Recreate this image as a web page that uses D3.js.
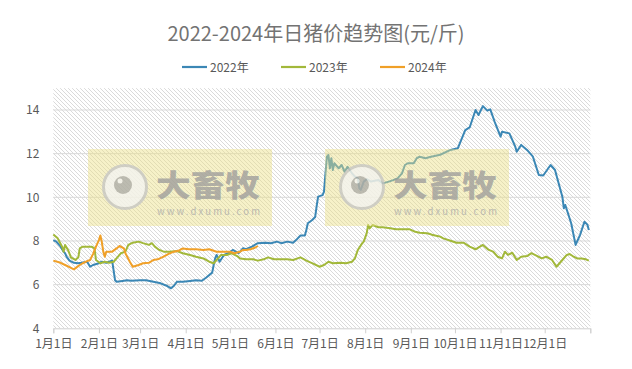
<!DOCTYPE html>
<html><head><meta charset="utf-8">
<script src="https://cdn.jsdelivr.net/npm/d3@7"></script>
<style>
html,body{margin:0;padding:0;background:#fff;}
svg{display:block;font-family:"Noto Sans CJK SC","Noto Sans",sans-serif;}
</style></head>
<body><svg id="c" width="632" height="369"></svg>
<script>
// ---- data (day index within the year, value in 元/斤) ----
const seriesNames = ["2022年", "2023年", "2024年"];
const seriesColors = ["#3b87b5", "#a2b83a", "#f0a028"];

const days2022 = [0,2,5,7,8,9,11,14,17,19,23,25,27,31,33,36,40,42,43,47,50,53,59,63,68,73,77,80,82,84,88,93,97,101,104,108,109,110,111,113,116,119,122,126,129,131,135,139,144,148,152,155,159,163,165,168,171,172,173,176,178,179,180,183,184,185,186,187,188,189,190,191,194,196,198,200,203,205,207,208,209,211,213,216,221,224,228,231,234,237,239,241,245,247,249,253,256,263,270,275,280,283,287,289,292,295,297,300,304,305,310,314,315,318,322,326,330,333,338,341,346,347,348,352,355,358,361,363,364];
const price2022 = [8.04,7.97,7.74,7.51,7.44,7.28,7.10,7.00,6.98,7.00,7.05,6.82,6.90,6.98,7.05,7.00,7.10,6.20,6.13,6.17,6.20,6.18,6.20,6.20,6.13,6.06,5.95,5.83,5.95,6.13,6.13,6.17,6.20,6.18,6.33,6.55,6.90,7.20,7.36,7.05,7.36,7.44,7.59,7.44,7.67,7.62,7.74,7.90,7.92,7.90,7.97,7.90,7.97,7.92,8.04,8.25,8.25,8.50,8.81,8.96,9.10,9.60,10.03,10.10,10.26,11.10,11.86,11.94,11.33,11.79,11.25,11.56,11.33,11.48,11.17,11.40,11.10,10.95,10.87,10.41,10.34,10.72,10.83,10.72,10.79,10.64,10.72,10.79,10.87,11.10,11.48,11.56,11.56,11.79,11.86,11.79,11.85,11.95,12.17,12.25,13.08,13.20,14.00,13.77,14.18,13.97,14.03,13.46,12.78,13.00,12.93,12.32,12.09,12.40,12.17,11.86,11.02,11.00,11.48,11.25,10.03,9.50,9.65,8.81,7.82,8.27,8.88,8.75,8.50];

const days2023 = [0,3,6,7,8,10,12,15,17,18,20,26,28,29,32,35,38,41,44,46,49,51,54,58,61,65,67,69,72,75,79,84,88,93,97,102,106,109,111,114,118,121,125,127,131,136,139,143,146,150,154,159,163,168,172,177,181,184,187,190,195,199,203,205,207,210,211,213,214,215,217,221,224,229,233,238,242,246,249,254,256,258,261,263,265,270,274,279,283,287,290,292,296,299,302,305,307,309,312,315,318,322,325,329,332,335,339,342,346,349,351,353,356,359,362,364];
const price2023 = [8.30,8.12,7.74,7.51,7.82,7.59,7.25,7.13,7.25,7.66,7.74,7.74,7.66,7.13,6.98,7.05,7.00,7.05,7.28,7.44,7.51,7.82,7.92,7.97,7.90,7.82,7.90,7.74,7.59,7.51,7.51,7.54,7.44,7.36,7.28,7.20,7.05,6.98,7.13,7.36,7.36,7.44,7.31,7.20,7.16,7.16,7.10,7.16,7.25,7.16,7.16,7.16,7.13,7.25,7.10,6.95,6.82,6.90,7.05,6.98,7.00,6.98,7.05,7.20,7.59,7.90,7.97,8.35,8.73,8.58,8.73,8.63,8.63,8.58,8.54,8.54,8.54,8.42,8.38,8.35,8.32,8.27,8.23,8.20,8.12,8.01,7.92,7.92,7.74,7.62,7.74,7.82,7.59,7.51,7.28,7.20,7.51,7.36,7.46,7.13,7.28,7.31,7.44,7.31,7.20,7.28,7.13,6.82,7.13,7.36,7.40,7.31,7.20,7.20,7.16,7.10];

const days2024 = [0,5,8,11,14,16,18,20,23,25,27,29,31,32,33,34,35,36,40,43,45,48,49,52,54,58,61,65,68,71,75,78,82,85,88,92,97,102,106,111,116,120,123,127,129,131,134,137,139];
const price2024 = [7.10,7.00,6.90,6.80,6.70,6.80,6.90,6.98,7.08,7.13,7.40,7.74,8.04,8.25,7.95,7.50,7.28,7.51,7.51,7.66,7.77,7.66,7.44,7.05,6.82,6.90,6.98,7.00,7.13,7.16,7.28,7.40,7.51,7.55,7.66,7.62,7.62,7.59,7.62,7.51,7.51,7.51,7.44,7.51,7.59,7.59,7.62,7.69,7.77];

const monthStartDays = [0,31,59,90,120,151,181,212,243,273,304,334];
const monthLabels = ["1月1日","2月1日","3月1日","4月1日","5月1日","6月1日","7月1日","8月1日","9月1日","10月1日","11月1日","12月1日"];
const yTicks = [4,6,8,10,12,14];
const titleText = "2022-2024年日猪价趋势图(元/斤)";

// ---- drawing ----
const svg = d3.select("#c");
const x = d3.scaleLinear().domain([0,365]).range([53.3,590.3]);
const y = d3.scaleLinear().domain([4,14]).range([328.3,110]);
const plotTop = y(15);

const defs = svg.append("defs");
const pat = defs.append("pattern").attr("id","hatch").attr("patternUnits","userSpaceOnUse")
  .attr("width",4).attr("height",4);
pat.append("rect").attr("width",4).attr("height",4).attr("fill","#fff");
pat.append("path").attr("d","M-1,-1 L5,5 M-1,3 L1,5 M3,-1 L5,1").attr("stroke","#d6d6d6").attr("stroke-width",0.9);

svg.append("rect").attr("x",x(0)).attr("y",plotTop).attr("width",x(365)-x(0)).attr("height",y(4)-plotTop)
  .attr("fill","url(#hatch)");

// title
svg.append("text").attr("x",316).attr("y",41).attr("text-anchor","middle")
  .attr("font-size",20).attr("fill","#737373").text(titleText);

// legend
const legendX = [182,281,380];
seriesNames.forEach((n,i)=>{
  const g = svg.append("g").attr("transform",`translate(${legendX[i]},67)`);
  g.append("line").attr("x1",0).attr("x2",25).attr("stroke",seriesColors[i]).attr("stroke-width",2.2);
  g.append("text").attr("x",28).attr("y",4.5).attr("font-size",12).attr("fill","#595959").text(n);
});

// gridlines
svg.append("g").selectAll("line").data(yTicks.filter(t=>t>4)).join("line")
  .attr("x1",x(0)).attr("x2",x(365)).attr("y1",d=>y(d)).attr("y2",d=>y(d))
  .attr("stroke","#d9d9d9").attr("stroke-width",1);

// y axis
const ya = svg.append("g").attr("transform",`translate(${x(0)},0)`)
  .call(d3.axisLeft(y).tickValues(yTicks).tickSize(0).tickPadding(14).tickFormat(d3.format("d")));
ya.select(".domain").remove();
ya.selectAll("text").attr("font-size",12).attr("fill","#595959").attr("font-family",'"Noto Sans CJK SC",sans-serif');

// x axis
const xa = svg.append("g").attr("transform",`translate(0,${y(4)})`)
  .call(d3.axisBottom(x).tickValues(monthStartDays.concat([365])).tickSize(5).tickPadding(6)
    .tickFormat((d,i)=> i<monthLabels.length ? monthLabels[i] : ""));
xa.select(".domain").attr("stroke","#d0d0d0");
xa.selectAll(".tick line").attr("stroke","#d0d0d0");
xa.selectAll("text").attr("font-size",12).attr("fill","#595959").attr("font-family",'"Noto Sans CJK SC",sans-serif');

// lines
const allDays = [days2022, days2023, days2024];
const allVals = [price2022, price2023, price2024];
const line = d3.line().x(d=>x(d[0])).y(d=>y(d[1]));
allDays.forEach((ds,i)=>{
  const pts = ds.map((d,j)=>[d, allVals[i][j]]);
  svg.append("path").datum(pts).attr("d",line).attr("fill","none")
    .attr("stroke",seriesColors[i]).attr("stroke-width",2).attr("stroke-linejoin","round");
});

// watermarks (semi-transparent overlay)
[[88,149],[325,149]].forEach(([wx,wy])=>{
  const g = svg.append("g").attr("transform",`translate(${wx},${wy})`);
  g.append("rect").attr("width",184).attr("height",77).attr("fill","#ebdf86").attr("opacity",0.45);
  const lg = g.append("g").attr("opacity",0.75);
  lg.append("circle").attr("cx",37).attr("cy",38).attr("r",21.5).attr("fill","#f4f4f4")
    .attr("stroke","#c4c4c4").attr("stroke-width",3);
  lg.append("circle").attr("cx",35).attr("cy",36).attr("r",9).attr("fill","#a9a9a9");
  lg.append("circle").attr("cx",32).attr("cy",32).attr("r",2.5).attr("fill","#f4f4f4");
  lg.append("text").attr("x",68).attr("y",47).attr("font-size",30).attr("font-weight",900)
    .attr("fill","#9a9a9a").attr("textLength",104).attr("lengthAdjust","spacingAndGlyphs").text("大畜牧");
  lg.append("text").attr("x",69).attr("y",66).attr("font-size",9.5).attr("fill","#a8a8a8")
    .attr("textLength",103).attr("lengthAdjust","spacing").text("www.dxumu.com");
});
</script></body></html>
